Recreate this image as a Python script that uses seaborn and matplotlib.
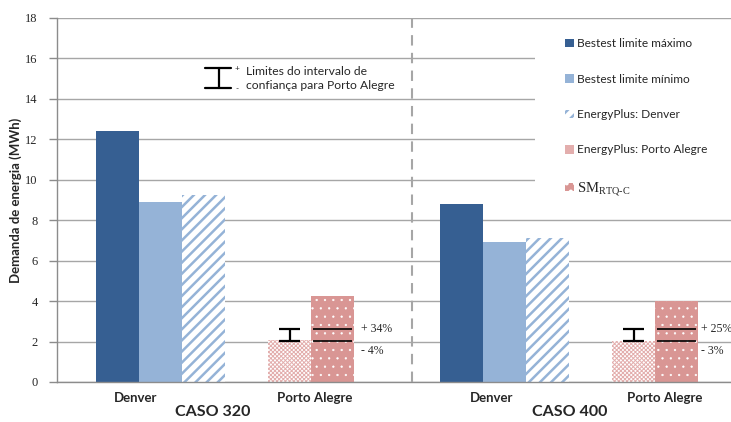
import matplotlib
matplotlib.use("Agg")
import matplotlib.pyplot as plt
import matplotlib.patches as mpatches
import pandas as pd
import seaborn as sns

# dados (MWh)
casos = ["CASO 320", "CASO 400"]
series = ["Bestest limite máximo", "Bestest limite mínimo", "EnergyPlus: Denver",
          "EnergyPlus: Porto Alegre", r"SM$_{\mathrm{RTQ\text{-}C}}$"]
cidades = ["Denver", "Porto Alegre"]
bestest_max = [12.4, 8.8]
bestest_min = [8.9, 6.9]
eplus_denver = [9.25, 7.1]
eplus_poa = [2.07, 2.03]
sm_rtqc = [4.27, 4.0]
ic_sup = [2.64, 2.61]
ic_inf = [2.05, 2.03]
rotulo_sup = ["+ 34%", "+ 25%"]
rotulo_inf = ["- 4%", "- 3%"]

# layout: posição de cada série dentro de um caso (em larguras de barra)
slot = [0, 1, 2, 4, 5]
passo_caso = 8
pos_cidade = [[0.42, 4.59], [0.69, 4.73]]
pos_caso = [2.22, 2.51]
desloc_rotulo = [5, 2]

cores = {series[0]: "#365F92", series[1]: "#95B3D7", series[2]: "#FFFFFF",
         series[3]: "#FFFFFF", series[4]: "#D99694"}
hatch_cor = ["none", "none", "#95B3D7", "#E3AEAD", "#FFFFFF"]
hatches = [None, None, "///", "xxxxxxxx", ".."]
hatch_lw = [None, None, 1.8, 0.7, 0.4]

valores = [bestest_max, bestest_min, eplus_denver, eplus_poa, sm_rtqc]
linhas = []
for ci, caso in enumerate(casos):
    for si, serie in enumerate(series):
        linhas.append({"caso": caso, "serie": serie,
                       "pos": ci * passo_caso + slot[si], "valor": valores[si][ci]})
df = pd.DataFrame(linhas)

sns.set_theme(style="white")
plt.rcParams["font.family"] = ["Lato", "DejaVu Sans"]
plt.rcParams["mathtext.fontset"] = "custom"
plt.rcParams["mathtext.rm"] = "Liberation Serif"
plt.rcParams["hatch.linewidth"] = 1.8

fig = plt.figure(figsize=(7.31, 4.22), dpi=100)
ax = fig.add_axes([57 / 731, 1 - 382 / 422, 674 / 731, 364 / 422])

sns.barplot(data=df, x="pos", y="valor", hue="serie", hue_order=series,
            palette=cores, native_scale=True, dodge=False, width=1,
            saturation=1, errorbar=None, legend=False, linewidth=0, ax=ax)


def estilo(patch, si):
    patch.set_linewidth(0)
    if hatches[si]:
        patch.set_hatch(hatches[si])
        patch.set_edgecolor(hatch_cor[si])
        if hasattr(patch, "set_hatch_linewidth"):
            patch.set_hatch_linewidth(hatch_lw[si])


for si, cont in enumerate(ax.containers):
    for bar in cont:
        estilo(bar, si)

# intervalo de confiança para Porto Alegre
for ci in range(len(casos)):
    x = ci * passo_caso + slot[3]
    xs = ci * passo_caso + slot[4]
    ax.vlines(x, ic_inf[ci], ic_sup[ci], color="black", lw=1.6, zorder=4)
    ax.hlines([ic_inf[ci], ic_sup[ci]], x - 0.25, x + 0.25, color="black", lw=1.6, zorder=4)
    ax.hlines([ic_inf[ci], ic_sup[ci]], xs - 0.45, xs + 0.45, color="black", lw=1.2, zorder=4)
    ax.annotate(rotulo_sup[ci], xy=(xs + 0.5, ic_sup[ci]), xytext=(desloc_rotulo[ci], 0),
                textcoords="offset points", va="center", ha="left",
                fontsize=8.5, family="Liberation Serif")
    ax.annotate(rotulo_inf[ci], xy=(xs + 0.5, ic_inf[ci]), xytext=(desloc_rotulo[ci], -7.5),
                textcoords="offset points", va="center", ha="left",
                fontsize=8.5, family="Liberation Serif")

# chave do intervalo
ta = ax.transAxes
ax.plot([0.2404, 0.2404], [0.8085, 0.8635], color="black", lw=1.6, transform=ta)
ax.plot([0.2196, 0.2577], [0.8635, 0.8635], color="black", lw=1.6, transform=ta)
ax.plot([0.2196, 0.2577], [0.8085, 0.8085], color="black", lw=1.6, transform=ta)
ax.text(0.2666, 0.862, "+", fontsize=6, va="center", ha="center", transform=ta)
ax.text(0.2666, 0.806, "-", fontsize=6, va="center", ha="center", transform=ta)
ax.text(0.280, 0.8335, "Limites do intervalo de\nconfiança para Porto Alegre",
        fontsize=8.7, va="center", ha="left", linespacing=1.35, transform=ta)

# divisória entre casos
ax.axvline(6.849, color="#A6A6A6", lw=1.5, ls=(0, (5, 3.5)), zorder=3)

ax.set_xlim(-1.407, 14.267)
ax.set_ylim(0, 18)
ax.set_yticks(range(0, 19, 2))
for lab in ax.get_yticklabels():
    lab.set_family("Liberation Serif")
ax.tick_params(axis="y", labelsize=9, length=6, width=1, color="#8C8C8C",
               left=True, pad=8)
ax.yaxis.grid(True, color="#A6A6A6", lw=1.0)
ax.set_axisbelow(True)

xt, xl = [], []
for ci in range(len(casos)):
    for k, c in enumerate(cidades):
        xt.append(ci * passo_caso + pos_cidade[ci][k])
        xl.append(c)
ax.set_xticks(xt)
ax.set_xticklabels(xl, fontsize=9.5, fontweight="bold")
ax.tick_params(axis="x", length=0, pad=7.5)
for ci, caso in enumerate(casos):
    ax.text(ci * passo_caso + pos_caso[ci], -0.082, caso, fontsize=11.5,
            fontweight="bold", ha="center", va="center",
            transform=ax.get_xaxis_transform())

ax.set_xlabel("")
ax.set_ylabel("Demanda de energia (MWh)", fontsize=9.5, fontweight="bold", labelpad=2)
for s in ["top", "right"]:
    ax.spines[s].set_visible(False)
for s in ["left", "bottom"]:
    ax.spines[s].set_color("#8C8C8C")
    ax.spines[s].set_linewidth(1.0)

# fundo branco da legenda
ax.add_patch(mpatches.Rectangle((0.709, 0.486), 0.3, 0.495, transform=ta,
                                facecolor="white", edgecolor="none", zorder=0.8))
handles = []
for si, serie in enumerate(series):
    h = mpatches.Patch(facecolor=cores[serie])
    estilo(h, si)
    handles.append(h)
leg = ax.legend(handles, series, loc="upper left", bbox_to_anchor=(0.754, 0.945),
                frameon=False, borderpad=0, borderaxespad=0, labelspacing=2.05,
                handlelength=0.72, handleheight=0.72, handletextpad=0.3,
                prop={"family": "Lato", "size": 8.6})
leg.get_texts()[4].set_fontfamily("Liberation Serif")
leg.get_texts()[4].set_fontsize(10.5)

fig.savefig("out.png", dpi=100)
